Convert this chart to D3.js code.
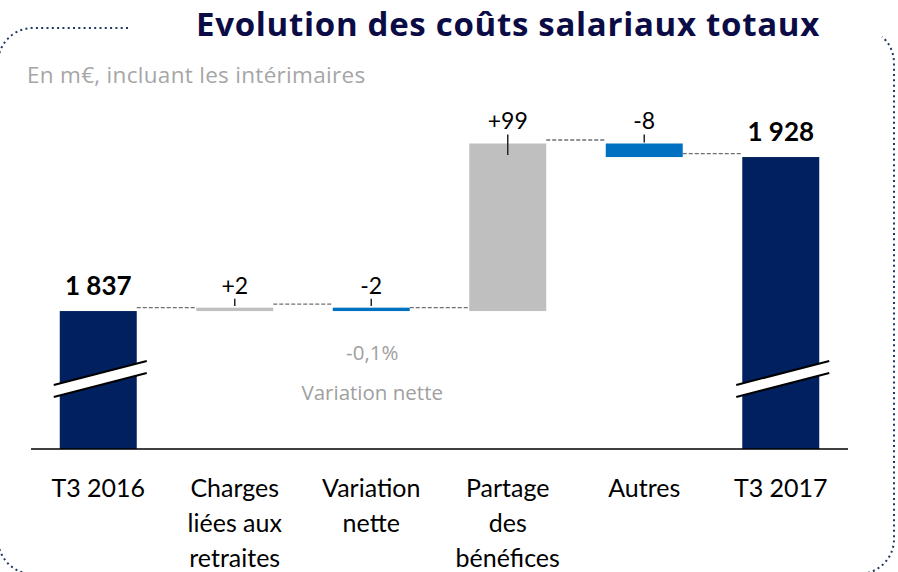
<!DOCTYPE html>
<html>
<head>
<meta charset="utf-8">
<script src="https://cdn.jsdelivr.net/npm/d3@7/dist/d3.min.js"></script>
<style>
  html, body { margin: 0; padding: 0; background: #fff; }
  svg { display: block; font-family: Lato, "Open Sans", sans-serif; }
</style>
</head>
<body>
<svg id="chart" width="898" height="572"></svg>
<script>
// ---- Data ----
const categories = [
  ["T3 2016"],
  ["Charges", "liées aux", "retraites"],
  ["Variation", "nette"],
  ["Partage", "des", "bénéfices"],
  ["Autres"],
  ["T3 2017"]
];
const values = [1837, 2, -2, 99, -8, 1928];
const types = ["total", "delta", "delta", "delta", "delta", "total"];
const valueLabels = ["1 837", "+2", "-2", "+99", "-8", "1 928"];
const titleText = "Evolution des coûts salariaux totaux";
const subtitleText = "En m€, incluant les intérimaires";
const noteLines = ["-0,1%", "Variation nette"];
const noteCategory = 2;
const valueDomain = [1755.5, 1961.7];

// ---- Styles ----
const navy = "#002060", blue = "#0070c0", grey = "#bfbfbf";

const svg = d3.select("#chart");

// Dotted rounded frame
const fL = -2, fT = 28, fR = 894, fB = 574, r = 35;
const framePath = d3.path();
framePath.moveTo(128, fT);
framePath.lineTo(fL + r, fT);
framePath.arcTo(fL, fT, fL, fT + r, r);
framePath.lineTo(fL, fB - r);
framePath.arcTo(fL, fB, fL + r, fB, r);
framePath.lineTo(fR - r, fB);
framePath.arcTo(fR, fB, fR, fB - r, r);
framePath.lineTo(fR, fT + r);
const a0 = -Math.PI / 2 + 0.72;
framePath.arc(fR - r, fT + r, r, 0, a0, true);
svg.append("path")
  .attr("d", framePath.toString())
  .attr("fill", "none")
  .attr("stroke", "#1f3864")
  .attr("stroke-width", 2)
  .attr("stroke-dasharray", "2 3.3");

// Title and subtitle
svg.append("text")
  .attr("x", 508).attr("y", 35.5)
  .attr("text-anchor", "middle")
  .attr("font-family", "'Open Sans', sans-serif")
  .attr("font-size", 33).attr("font-weight", "bold")
  .attr("letter-spacing", 0.7)
  .attr("fill", "#0b0b46")
  .text(titleText);
svg.append("text")
  .attr("x", 27).attr("y", 83)
  .attr("font-family", "'Open Sans', sans-serif")
  .attr("font-size", 22.5)
  .attr("letter-spacing", 0.3)
  .attr("fill", "#a6a6a6")
  .text(subtitleText);

// Scales
const x = d3.scaleBand()
  .domain(d3.range(values.length))
  .range([30, 849])
  .paddingInner(0.436)
  .paddingOuter(0.218);
const y = d3.scaleLinear().domain(valueDomain).range([449, 100]);

// Waterfall computation
let running = 0;
const bars = values.map((v, i) => {
  let v0, v1;
  if (types[i] === "total") { v0 = valueDomain[0]; v1 = v; running = v; }
  else { v0 = running; v1 = running + v; running = v1; }
  return { i, v, v0, v1, level: running, type: types[i] };
});

// Connectors
const g = svg.append("g");
bars.slice(0, -1).forEach((b, k) => {
  const nb = bars[k + 1];
  g.append("line")
    .attr("x1", x(b.i) + x.bandwidth()).attr("x2", x(nb.i))
    .attr("y1", y(b.level) - 3.5).attr("y2", y(b.level) - 3.5)
    .attr("stroke", "#6f6f6f").attr("stroke-width", 1.3)
    .attr("stroke-dasharray", "4 2");
});

// Bars
g.selectAll("rect.bar").data(bars).enter().append("rect")
  .attr("class", "bar")
  .attr("x", d => x(d.i))
  .attr("width", x.bandwidth())
  .attr("y", d => y(Math.max(d.v0, d.v1)))
  .attr("height", d => Math.abs(y(d.v0) - y(d.v1)))
  .attr("fill", d => d.type === "total" ? navy : (d.v >= 0 ? grey : blue));

// Break marks on total bars
bars.filter(d => d.type === "total").forEach(d => {
  const x0 = x(d.i) - 6, x1 = x(d.i) + x.bandwidth() + 10;
  const yb = y(valueDomain[0]) - 64, yt = yb - 24, gap = 12;
  g.append("polygon")
    .attr("points", [[x0, yb], [x1, yt], [x1, yt + gap], [x0, yb + gap]].map(p => p.join(",")).join(" "))
    .attr("fill", "#fff");
  [0, gap].forEach(o => {
    g.append("line")
      .attr("x1", x0).attr("y1", yb + o).attr("x2", x1).attr("y2", yt + o)
      .attr("stroke", "#000").attr("stroke-width", 2);
  });
});

// Axis baseline
g.append("line")
  .attr("x1", 31).attr("x2", 848)
  .attr("y1", y(valueDomain[0])).attr("y2", y(valueDomain[0]))
  .attr("stroke", "#000").attr("stroke-width", 1.5);

// Value labels and leader ticks
bars.forEach(d => {
  const cx = x(d.i) + x.bandwidth() / 2;
  const top = y(Math.max(d.v0, d.v1));
  const h = Math.abs(y(d.v0) - y(d.v1));
  if (d.type === "total") {
    g.append("text")
      .attr("x", cx).attr("y", top - 16)
      .attr("text-anchor", "middle")
      .attr("font-size", 26).attr("font-weight", "bold")
      .attr("fill", "#000")
      .text(valueLabels[d.i]);
  } else {
    const base = top - 14;
    g.append("text")
      .attr("x", cx).attr("y", base)
      .attr("text-anchor", "middle")
      .attr("font-size", 23)
      .attr("fill", "#000")
      .text(valueLabels[d.i]);
    g.append("line")
      .attr("x1", cx).attr("x2", cx)
      .attr("y1", base + 5).attr("y2", top + 0.08 * h - 2)
      .attr("stroke", "#262626").attr("stroke-width", 1.5);
  }
});

// Note under the "Variation nette" bar
const ncx = x(noteCategory) + x.bandwidth() / 2 + 1;
noteLines.forEach((t, k) => {
  g.append("text")
    .attr("x", ncx).attr("y", 360 + k * 40)
    .attr("text-anchor", "middle")
    .attr("font-family", "'Open Sans', sans-serif")
    .attr("font-size", 20.5)
    .attr("fill", "#a0a0a0")
    .text(t);
});

// Category labels
categories.forEach((lines, i) => {
  const cx = x(i) + x.bandwidth() / 2;
  lines.forEach((t, k) => {
    g.append("text")
      .attr("x", cx).attr("y", 497 + k * 35)
      .attr("text-anchor", "middle")
      .attr("font-size", 25)
      .attr("fill", "#000")
      .text(t);
  });
});
</script>
</body>
</html>
